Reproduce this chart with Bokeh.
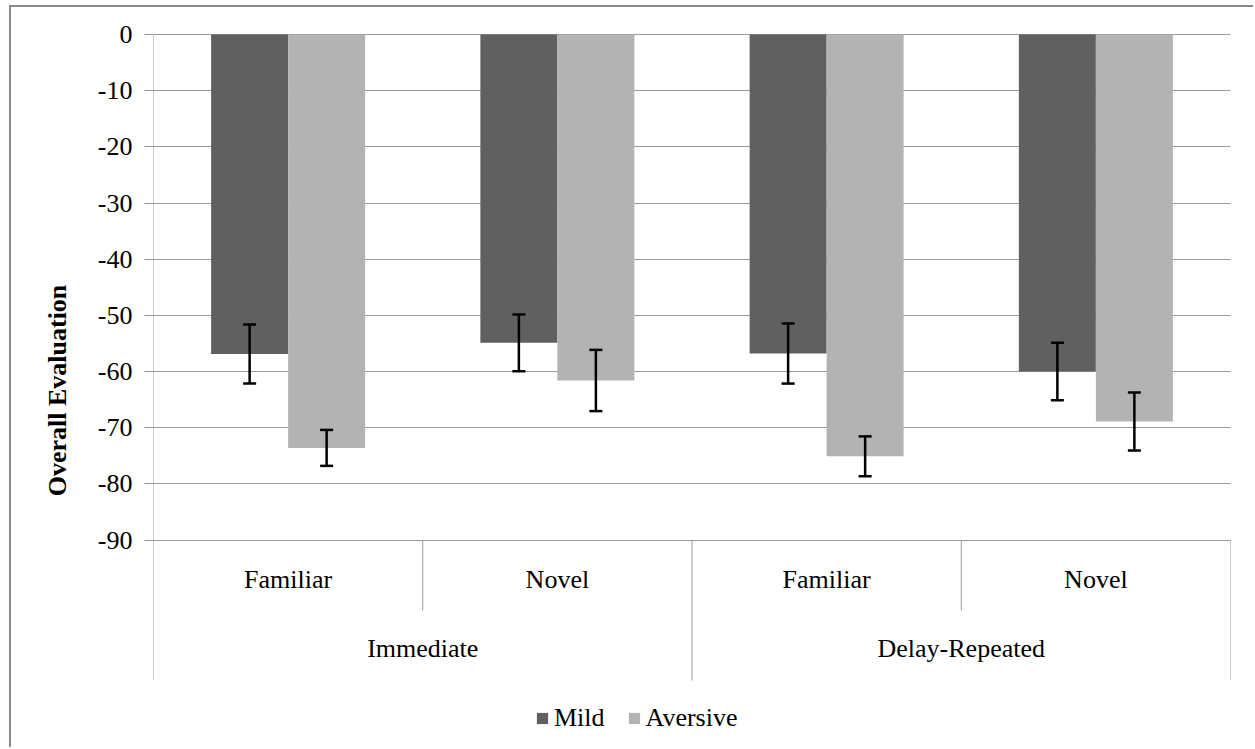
from bokeh.plotting import figure
from bokeh.models import (ColumnDataSource, FixedTicker, Range1d, Whisker, TeeHead,
                          Legend, LegendItem)
from bokeh.core.properties import value
from bokeh.embed import file_html
from bokeh.resources import INLINE

# ---- data -------------------------------------------------------------
conditions = ["Immediate", "Delay-Repeated"]
stimuli = ["Familiar", "Novel"]
mild_mean = [-56.9, -54.9, -56.8, -60.0]
mild_err = [5.25, 5.05, 5.35, 5.1]
aversive_mean = [-73.6, -61.6, -75.1, -68.9]
aversive_err = [3.2, 5.45, 3.55, 5.15]
y_ticks = [0, -10, -20, -30, -40, -50, -60, -70, -80, -90]

FONT = "Liberation Serif"
FS = "26px"
AXIS_GREY = "#9a9a9a"
BORDER = "2px solid #8a8a8a"

# pixels per value unit on the vertical scale
K = 505.5 / 90.0
def v(py):
    """value on the y scale that sits py pixels below the zero line"""
    return -py / K

n = len(mild_mean)
centers = [i + 0.5 for i in range(n)]
bar_w = 0.286

# the chart area is framed on its left and top edges and offset from the page corner
p = figure(width=1244, height=742, output_backend="svg", toolbar_location=None,
           x_axis_location=None, min_border_left=142, min_border_right=25,
           min_border_top=24, min_border_bottom=0,
           x_range=Range1d(0, n), y_range=Range1d(v(715), v(-3)),
           margin=(5, 0, 0, 9),
           styles={"border-left": BORDER, "border-top": BORDER})
p.outline_line_color = None
p.background_fill_color = "white"
p.border_fill_color = "white"

# ---- y axis ------------------------------------------------------------
yax = p.yaxis[0]
yax.ticker = FixedTicker(ticks=y_ticks)
yax.major_label_overrides = {t: str(t) for t in y_ticks}
yax.axis_line_color = None
yax.major_tick_out = 9
yax.major_tick_in = 0
yax.major_tick_line_color = AXIS_GREY
yax.minor_tick_line_color = None
yax.major_label_text_font = FONT
yax.major_label_text_font_size = FS
yax.major_label_text_color = "black"
yax.major_label_standoff = 12
yax.axis_label = "Overall Evaluation"
yax.axis_label_text_font = FONT
yax.axis_label_text_font_size = FS
yax.axis_label_text_font_style = "bold"
yax.axis_label_text_color = "black"
yax.axis_label_standoff = 23

p.ygrid.ticker = FixedTicker(ticks=y_ticks)
p.ygrid.grid_line_color = AXIS_GREY
p.ygrid.grid_line_width = 1
p.xgrid.visible = False

# ---- bars --------------------------------------------------------------
src = ColumnDataSource(dict(
    x_mild=[c - bar_w / 2 for c in centers],
    x_av=[c + bar_w / 2 for c in centers],
    mild=mild_mean, aversive=aversive_mean,
    mild_lo=[m - e for m, e in zip(mild_mean, mild_err)],
    mild_hi=[m + e for m, e in zip(mild_mean, mild_err)],
    av_lo=[m - e for m, e in zip(aversive_mean, aversive_err)],
    av_hi=[m + e for m, e in zip(aversive_mean, aversive_err)],
))

r_mild = p.vbar(x="x_mild", top=0, bottom="mild", width=bar_w, source=src,
                fill_color="#606060", line_color=None)
r_av = p.vbar(x="x_av", top=0, bottom="aversive", width=bar_w, source=src,
              fill_color="#b3b3b3", line_color=None)

for base, lo, hi in (("x_mild", "mild_lo", "mild_hi"), ("x_av", "av_lo", "av_hi")):
    w = Whisker(source=src, base=base, lower=lo, upper=hi, level="annotation",
                line_color="black", line_width=2.5,
                upper_head=TeeHead(size=13, line_color="black", line_width=2.5),
                lower_head=TeeHead(size=13, line_color="black", line_width=2.5))
    p.add_layout(w)

# ---- category axis (two levels) ---------------------------------------
p.segment(x0=[0], y0=[0], x1=[0], y1=[v(646)], line_color=AXIS_GREY, line_width=1)
sep_x = [1, 2, 3, 4]
sep_end = [v(576), v(646), v(576), v(646)]
p.segment(x0=sep_x, y0=[-90] * 4, x1=sep_x, y1=sep_end, line_color=AXIS_GREY, line_width=1)

p.text(x=centers, y=[v(545)] * n, text=stimuli * len(conditions),
       text_align="center", text_baseline="alphabetic",
       text_font=value(FONT), text_font_size=value(FS), text_color="black")
p.text(x=[1, 3], y=[v(614)] * 2, text=conditions,
       text_align="center", text_baseline="alphabetic",
       text_font=value(FONT), text_font_size=value(FS), text_color="black")

# ---- legend ------------------------------------------------------------
legend = Legend(items=[LegendItem(label="Mild", renderers=[r_mild]),
                       LegendItem(label="Aversive", renderers=[r_av])],
                orientation="horizontal", location=(382, 16),
                glyph_width=14, glyph_height=14, label_standoff=5, spacing=22,
                padding=0, margin=0, border_line_color=None,
                background_fill_alpha=0,
                label_text_font=FONT, label_text_font_size=FS,
                label_text_color="black")
p.add_layout(legend)

open("out.html", "w").write(file_html(p, INLINE))
